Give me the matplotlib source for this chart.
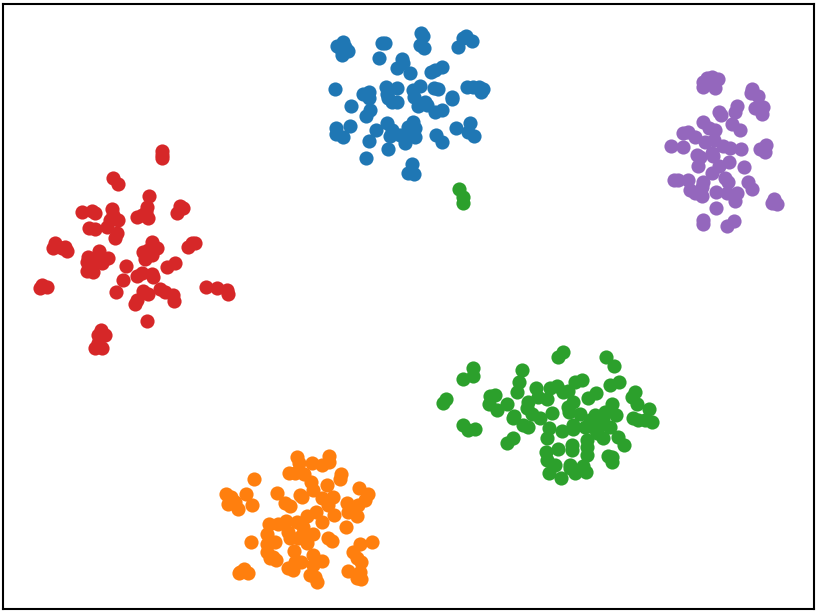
import matplotlib
matplotlib.use('Agg')
import matplotlib.pyplot as plt

# cluster embeddings, values
blue_x = [421, 423, 420, 424, 466, 472, 458, 463, 337, 343, 348, 342, 340, 345, 382, 385, 379, 402, 397, 410, 403, 431, 442, 435,
          335, 351, 363, 369, 369, 370, 366, 386, 397, 387, 392, 397, 388, 420, 413, 414, 418, 427, 425, 434, 438, 435,
          442, 452, 452, 467, 479, 483, 481, 473, 336, 350, 336, 343, 376, 369, 387, 392, 390, 388, 413, 408, 415, 415,
          406, 405, 400, 410, 436, 442, 456, 470, 468, 474, 366, 412, 408, 414]
blue_y = [33, 36, 45, 48, 36, 41, 47, 38, 46, 42, 51, 55, 48, 47, 43, 43, 58, 59, 68, 73, 63, 72, 67, 70,
          89, 106, 94, 92, 98, 110, 116, 87, 88, 94, 102, 102, 98, 86, 90, 97, 106, 105, 102, 88, 89, 112,
          110, 97, 99, 87, 87, 89, 92, 87, 128, 126, 134, 137, 130, 141, 123, 130, 136, 149, 122, 127, 128, 137,
          135, 143, 135, 132, 135, 142, 128, 123, 132, 136, 158, 164, 173, 174]

red_x = [162, 162, 162, 113, 118, 149, 147, 146, 148, 137, 142, 180, 177, 183, 82, 92, 95, 112, 113, 118, 110, 107,
         89, 95, 117, 115, 55, 53, 65, 67, 62, 192, 188, 195, 152, 157, 143, 145, 152, 148, 175, 167, 99, 108, 88, 87, 87,
         93, 97, 93, 102, 90, 126, 152, 137, 142, 153, 123, 116, 143, 148, 137, 135, 160, 165, 173, 174, 206, 217, 227,
         228, 42, 47, 40, 147, 101, 105, 98, 98, 102, 95]
red_y = [151, 158, 155, 178, 184, 196, 207, 212, 218, 217, 215, 206, 213, 208, 212, 211, 213, 209, 215, 220, 220, 227,
         228, 229, 233, 238, 243, 248, 247, 251, 248, 243, 247, 243, 242, 248, 252, 259, 255, 250, 263, 267, 251, 258, 257,
         262, 271, 272, 258, 265, 263, 268, 266, 274, 276, 273, 277, 280, 292, 291, 294, 300, 304, 289, 292, 295, 301, 287,
         288, 290, 294, 285, 287, 288, 321, 330, 335, 335, 343, 348, 348]

green_x = [459, 463, 463, 563, 558, 606, 614, 473, 473, 463, 522, 519, 517, 446, 443, 495, 490, 489, 497, 507, 536,
           550, 557, 563, 568, 575, 582, 547, 538, 528, 527, 532, 540, 514, 513, 523, 528, 610, 619, 635, 632, 637,
           649, 633, 638, 645, 652, 573, 568, 569, 580, 552, 588, 596, 612, 605, 616, 595, 600, 593, 585, 610, 597,
           603, 590, 598, 603, 573, 573, 562, 549, 547, 513, 507, 463, 468, 475, 618, 624, 558, 546, 547, 572, 572, 587, 587,
           587, 608, 612, 612, 555, 549, 561, 570, 570, 575, 583, 586]
green_y = [189, 197, 203, 352, 357, 357, 366, 368, 376, 379, 370, 382, 392, 399, 403, 395, 396, 404, 410, 404, 388,
           388, 386, 392, 391, 382, 380, 399, 397, 402, 408, 414, 418, 416, 418, 425, 427, 385, 382, 392, 397, 404,
           409, 418, 420, 420, 422, 402, 407, 412, 414, 413, 398, 393, 404, 412, 415, 415, 422, 427, 427, 427, 433,
           438, 420, 428, 418, 425, 429, 431, 428, 438, 438, 443, 425, 430, 429, 437, 445, 449, 452, 460, 445, 450, 440, 447,
           455, 456, 457, 462, 465, 473, 478, 465, 468, 473, 466, 472]

orange_x = [297, 299, 312, 322, 329, 329, 289, 295, 304, 341, 340, 254, 311, 313, 327, 322, 333, 328, 334, 359, 368,
            365, 347, 358, 348, 357, 352, 226, 231, 228, 238, 235, 246, 252, 277, 285, 290, 300, 302, 316, 307, 322,
            346, 269, 278, 286, 297, 303, 267, 251, 288, 290, 302, 313, 307, 298, 275, 267, 267, 273, 270, 276, 328,
            332, 294, 372, 360, 353, 357, 361, 313, 322, 301, 295, 288, 293, 313, 310, 315, 317, 348, 357, 361, 360,
            240, 244, 248, 239]
orange_y = [457, 463, 463, 465, 456, 462, 473, 473, 474, 474, 479, 479, 482, 490, 485, 498, 497, 505, 515, 488, 494,
            500, 503, 505, 512, 516, 510, 494, 497, 504, 509, 502, 494, 505, 493, 503, 506, 495, 497, 512, 516, 522,
            527, 524, 524, 521, 522, 527, 534, 542, 532, 538, 535, 534, 543, 538, 542, 544, 552, 557, 558, 560, 538,
            541, 551, 542, 544, 552, 558, 562, 555, 561, 562, 562, 568, 570, 565, 575, 577, 582, 571, 578, 579, 572,
            572, 569, 573, 573]

purple_x = [703, 712, 718, 715, 703, 710, 707, 752, 758, 751, 755, 763, 762, 719, 721, 737, 735, 703, 709, 715, 732, 740,
            688, 683, 695, 714, 705, 671, 683, 723, 730, 741, 766, 760, 765, 697, 700, 712, 713, 698, 744, 729, 719,
            712, 703, 725, 728, 674, 678, 688, 748, 752, 690, 695, 702, 702, 716, 727, 737, 735, 772, 777, 774, 716,
            703, 703, 727, 734]
purple_y = [82, 77, 79, 88, 87, 83, 78, 89, 96, 93, 108, 107, 114, 112, 115, 106, 112, 122, 128, 130, 124, 130,
            132, 133, 137, 140, 142, 146, 147, 146, 148, 149, 145, 149, 152, 155, 157, 153, 156, 166, 167, 162, 166,
            173, 182, 178, 182, 180, 180, 180, 182, 189, 190, 193, 196, 187, 192, 193, 193, 201, 203, 204, 199, 208,
            220, 224, 226, 221]

clusters = [
    (blue_x, blue_y, '#1f77b4'),
    (orange_x, orange_y, '#ff7f0e'),
    (green_x, green_y, '#2ca02c'),
    (red_x, red_y, '#d62728'),
    (purple_x, purple_y, '#9467bd'),
]

W, H = 819, 613
left, right, top, bottom = 3, 814, 4, 609

fig = plt.figure(figsize=(W / 100, H / 100), dpi=100)
ax = fig.add_axes([left / W, 1 - bottom / H, (right - left) / W, (bottom - top) / H])

for xs, ys, color in clusters:
    ax.scatter(xs, ys, s=104, color=color, linewidths=0)

ax.set_xlim(left, right)
ax.set_ylim(bottom, top)
ax.set_xticks([])
ax.set_yticks([])
for spine in ax.spines.values():
    spine.set_linewidth(1.5)

fig.savefig('out.png', dpi=100)
